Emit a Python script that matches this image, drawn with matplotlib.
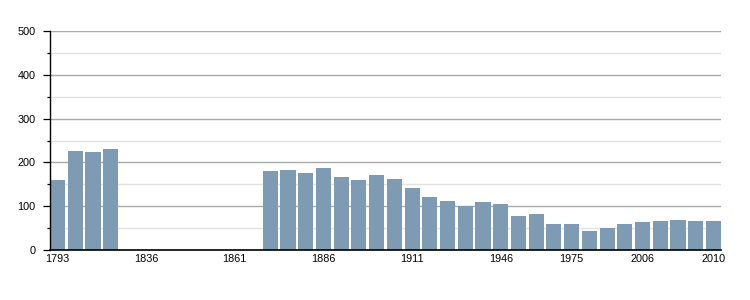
import matplotlib
matplotlib.use("Agg")
import matplotlib.pyplot as plt
import numpy as np

years = [1793, 1800, 1806, 1821, 1831, 1836, 1841, 1846, 1851, 1856, 1861, 1866,
         1872, 1876, 1881, 1886, 1891, 1896, 1901, 1906, 1911, 1921, 1926, 1931,
         1936, 1946, 1954, 1962, 1968, 1975, 1982, 1990, 1999, 2006, 2007, 2008,
         2009, 2010]
population = [159, 225, 223, 230, None, None, None, None, None, None, None, None,
              180, 182, 175, 187, 166, 159, 171, 162, 141, 121, 112, 100,
              109, 105, 77, 82, 59, 59, 43, 50, 59, 64, 66, 68, 66, 66]
shown_labels = [1793, 1836, 1861, 1886, 1911, 1946, 1975, 2006, 2010]

plt.rcParams['font.family'] = ['Liberation Sans', 'DejaVu Sans']

fig = plt.figure(figsize=(7.5, 3.0), dpi=100)
ax = fig.add_axes([50/750, 50/300, 671/750, 219/300])

x = np.arange(len(years))
vals = [v if v is not None else 0 for v in population]
mask = [v is not None for v in population]
ax.bar(x[mask], np.array(vals)[mask], width=0.85, color='#7f9ab3', zorder=2)

ax.set_xlim(-0.425, len(years) - 1 + 0.425)
ax.set_ylim(0, 500)

for y in range(50, 501, 100):
    ax.axhline(y, color='#e2e2e2', lw=1.0, zorder=0)
for y in range(100, 501, 100):
    ax.axhline(y, color='#aaaaaa', lw=1.0, zorder=0)

ax.set_yticks(range(0, 501, 100))
ax.set_yticks(range(50, 501, 100), minor=True)
ax.tick_params(axis='y', which='major', length=5, width=0.9, color='black',
               labelsize=7.8, pad=5.5)
ax.tick_params(axis='y', which='minor', length=2.5, width=0.9, color='black')

tick_pos = [years.index(y) for y in shown_labels]
ax.set_xticks(tick_pos)
ax.set_xticklabels([str(y) for y in shown_labels])
ax.tick_params(axis='x', length=0, labelsize=7.8, pad=3)

for s in ['top', 'right']:
    ax.spines[s].set_visible(False)
ax.spines['left'].set_linewidth(1.0)
ax.spines['bottom'].set_linewidth(1.2)
ax.spines['left'].set_zorder(3)
ax.spines['bottom'].set_zorder(3)

fig.savefig('out.png', dpi=100)
